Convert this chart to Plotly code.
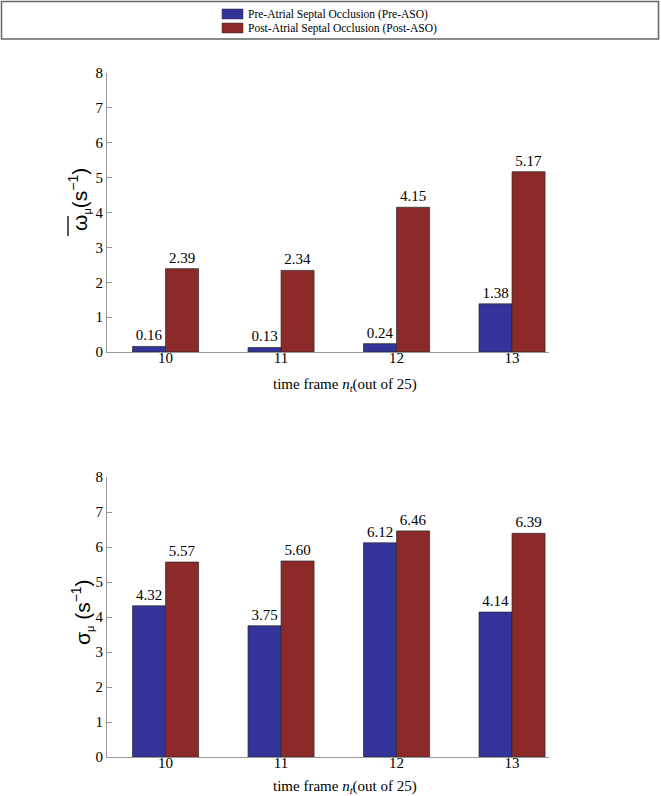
import plotly.graph_objects as go

W, H = 661, 796

frames = [10, 11, 12, 13]
series_names = ["Pre-Atrial Septal Occlusion (Pre-ASO)", "Post-Atrial Septal Occlusion (Post-ASO)"]
omega_pre = [0.16, 0.13, 0.24, 1.38]
omega_post = [2.39, 2.34, 4.15, 5.17]
sigma_pre = [4.32, 3.75, 6.12, 4.14]
sigma_post = [5.57, 5.60, 6.46, 6.39]
y_ticks = [0, 1, 2, 3, 4, 5, 6, 7, 8]

BLUE = "#333399"
RED = "#8B2A28"
FONT = "Liberation Serif, Times New Roman, serif"
SANS = "Liberation Sans, Arial, sans-serif"


def px(x):
    return x / W


def py(y):
    return 1 - y / H


fig = go.Figure()

for vals, color, name in [(omega_pre, BLUE, series_names[0]), (omega_post, RED, series_names[1])]:
    fig.add_trace(go.Bar(
        x=frames, y=vals, name=name, marker=dict(color=color, line=dict(color="#2a2a2a", width=0.7)),
        texttemplate="%{y:.2f}", textposition="outside", cliponaxis=False,
        textfont=dict(family=FONT, size=15, color="black"),
        xaxis="x", yaxis="y", showlegend=False,
    ))
for vals, color, name in [(sigma_pre, BLUE, series_names[0]), (sigma_post, RED, series_names[1])]:
    fig.add_trace(go.Bar(
        x=frames, y=vals, name=name, marker=dict(color=color, line=dict(color="#2a2a2a", width=0.7)),
        texttemplate="%{y:.2f}", textposition="outside", cliponaxis=False,
        textfont=dict(family=FONT, size=15, color="black"),
        xaxis="x2", yaxis="y2", showlegend=False,
    ))

xrange_ = [9.493, 13.32]
xcommon = dict(range=xrange_, tickvals=frames, ticktext=[str(f) for f in frames],
               showline=True, linecolor="#999999", linewidth=1, ticks="", showgrid=False,
               zeroline=False, tickfont=dict(family=FONT, size=15, color="black"), fixedrange=True,
               ticklabelstandoff=-8, automargin=False)
ycommon = dict(range=[0, 8], tickvals=y_ticks, showline=True, linecolor="#999999", linewidth=1,
               ticks="inside", ticklen=5, tickcolor="#999999", showgrid=False, zeroline=False,
               tickfont=dict(family=FONT, size=15, color="black"), fixedrange=True, automargin=False)

fig.update_layout(
    width=W, height=H,
    margin=dict(l=0, r=0, t=0, b=0, pad=0, autoexpand=False),
    paper_bgcolor="white", plot_bgcolor="white",
    barmode="group", bargap=0.428, bargroupgap=0,
    xaxis=dict(domain=[px(107), px(549)], anchor="y", **xcommon),
    yaxis=dict(domain=[py(352), py(73)], anchor="x", **ycommon),
    xaxis2=dict(domain=[px(107), px(549)], anchor="y2", **xcommon),
    yaxis2=dict(domain=[py(757), py(477)], anchor="x2", **ycommon),
    showlegend=False,
)

shapes = [
    dict(type="rect", xref="paper", yref="paper", x0=px(1.5), x1=px(658.5), y0=py(39), y1=py(1.5),
         line=dict(color="#666666", width=1.5), fillcolor="rgba(0,0,0,0)"),
    dict(type="rect", xref="paper", yref="paper", x0=px(222), x1=px(243), y0=py(19), y1=py(9),
         line=dict(color="#2a2a2a", width=0.5), fillcolor=BLUE),
    dict(type="rect", xref="paper", yref="paper", x0=px(222), x1=px(243), y0=py(33), y1=py(23),
         line=dict(color="#2a2a2a", width=0.5), fillcolor=RED),
    # overbar of the omega in the top y-axis title (vertical because the title is rotated)
    dict(type="line", xref="paper", yref="paper", x0=px(68), x1=px(68), y0=py(236), y1=py(216),
         line=dict(color="black", width=1.3)),
]

SUB = '<sub><span style="font-size:11px">μ</span></sub>'
SUP = '<sup><span style="font-size:14px">−1</span></sup>'

annotations = [
    dict(text=series_names[0], x=px(246), y=py(14), xref="paper", yref="paper", xanchor="left",
         yanchor="middle", showarrow=False, font=dict(family=FONT, size=11.5, color="black")),
    dict(text=series_names[1], x=px(246), y=py(28), xref="paper", yref="paper", xanchor="left",
         yanchor="middle", showarrow=False, font=dict(family=FONT, size=11.5, color="black")),
    dict(text="time frame <i>n</i><sub><i>t</i></sub>(out of 25)", x=px(345), y=py(385), xref="paper",
         yref="paper", xanchor="center", yanchor="middle", showarrow=False,
         font=dict(family=FONT, size=15, color="black")),
    dict(text="time frame <i>n</i><sub><i>t</i></sub>(out of 25)", x=px(345), y=py(787), xref="paper",
         yref="paper", xanchor="center", yanchor="middle", showarrow=False,
         font=dict(family=FONT, size=15, color="black")),
    dict(text="ω" + SUB + "(s" + SUP + ")", x=px(79), y=py(200), xref="paper", yref="paper",
         xanchor="center", yanchor="middle", textangle=-90, showarrow=False,
         font=dict(family=SANS, size=21, color="black")),
    dict(text="σ" + SUB + " (s" + SUP + ")", x=px(82), y=py(612), xref="paper", yref="paper",
         xanchor="center", yanchor="middle", textangle=-90, showarrow=False,
         font=dict(family=SANS, size=21, color="black")),
]

fig.update_layout(shapes=shapes, annotations=annotations)

fig.write_html("out.html", config={"displayModeBar": False},
               post_script="document.body.style.margin='0';")
